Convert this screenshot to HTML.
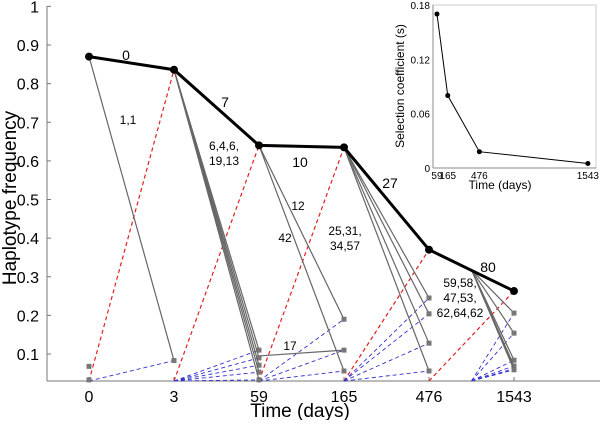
<!DOCTYPE html>
<html><head><meta charset="utf-8"><style>
body{margin:0;background:#fff;font-family:"Liberation Sans",sans-serif}
svg text{font-family:"Liberation Sans",sans-serif}
</style></head><body>
<svg id="c" width="600" height="420" viewBox="0 0 600 420"></svg>
<script>
const categories=["0","3","59","165","476","1543"];
const mainValues=[0.87,0.836,0.64,0.635,0.37,0.263];
const mainLabels=["0","7","10","27","80"];
const yTicks=[0.1,0.2,0.3,0.4,0.5,0.6,0.7,0.8,0.9,1];
const yTickLabels=["0.1","0.2","0.3","0.4","0.5","0.6","0.7","0.8","0.9","1"];
// gray drift lines: [fromIdx, fromVal, toIdx, toVal]
const drift=[[0,0.87,1,0.083],[1,0.836,2,0.11],[1,0.836,2,0.09],[1,0.836,2,0.071],[1,0.836,2,0.053],[1,0.836,2,0.033],
[2,0.64,3,0.19],[2,0.64,3,0.056],[2,0.095,3,0.11],
[3,0.635,4,0.245],[3,0.635,4,0.204],[3,0.635,4,0.128],[3,0.635,4,0.056],
[4.5,0.318,5,0.206],[4.5,0.318,5,0.154],[4.5,0.318,5,0.084],[4.5,0.318,5,0.069],[4.5,0.318,5,0.062],[4.5,0.318,5,0.059]];
const extraSquares=[[0,0.068],[0,0.033]];
const blueFrom=[0,1,1,1,1,1,2,2,2,3,3,3,3,4.5,4.5,4.5,4.5,4.5,4.5];
const insetDays=[59,165,476,1543];
const insetS=[0.17,0.08,0.018,0.005];
const insetYTicks=[0,0.06,0.12,0.18];
const insetYLabels=["0","0.06","0.12","0.18"];
const NS="http://www.w3.org/2000/svg";
const svg=document.getElementById('c');
const x=i=>89+i*85;
const y=v=>45+(0.9-v)*386.25;
const Y0=381;
function el(t,a,p){const e=document.createElementNS(NS,t);for(const k in a)e.setAttribute(k,a[k]);(p||svg).appendChild(e);return e;}
function txt(s,xx,yy,size,anchor,p){const e=el('text',{x:xx,y:yy,'font-size':size,'text-anchor':anchor||'middle',fill:'#000'},p);e.textContent=s;return e;}
let a=el('line',{x1:47,y1:Y0,x2:600,y2:Y0,stroke:'#777'});
a=el('line',{x1:47,y1:6,x2:47,y2:Y0,stroke:'#777'});
yTicks.forEach((v,i)=>{el('line',{x1:47,y1:y(v),x2:51,y2:y(v),stroke:'#777'});const t=txt(yTickLabels[i],39,y(v)+6,16,'end');});
categories.forEach((c,i)=>{el('line',{x1:x(i),y1:Y0,x2:x(i),y2:Y0-4,stroke:'#777'});const t=txt(c,x(i),402,16);});
let t=txt('Time (days)',300,417,19);
t=txt('Haplotype frequency',0,0,19);t.setAttribute('transform','translate(16,198) rotate(-90)');
for(let i=0;i<5;i++){const l=el('line',{x1:x(i),y1:Y0,x2:x(i+1),y2:y(mainValues[i+1]),stroke:'#e02020','stroke-width':1.2,'stroke-dasharray':'4,3'});}
drift.forEach((d,k)=>{const l=el('line',{x1:x(blueFrom[k]),y1:Y0,x2:x(d[2]),y2:y(d[3]),stroke:'#3030d0','stroke-width':0.9,'stroke-dasharray':'4,3'});});
drift.forEach(d=>{const l=el('line',{x1:x(d[0]),y1:y(d[1]),x2:x(d[2]),y2:y(d[3]),stroke:'#666','stroke-width':1.2});
const s=el('rect',{x:x(d[2])-2.5,y:y(d[3])-2.5,width:5,height:5,fill:'#777'});});
extraSquares.forEach(d=>{const s=el('rect',{x:x(d[0])-2.5,y:y(d[1])-2.5,width:5,height:5,fill:'#777'});});
const p=el('polyline',{points:mainValues.map((v,i)=>x(i)+','+y(v)).join(' '),fill:'none',stroke:'#000','stroke-width':3});
mainValues.forEach((v,i)=>{const c=el('circle',{cx:x(i),cy:y(v),r:4,fill:'#000'});});
const lblPos=[[126,60],[225,107],[300,167],[390,188],[488,272]];
mainLabels.forEach((s,i)=>{const e=txt(s,lblPos[i][0],lblPos[i][1],14);});
const small=[["1,1",128,124],["6,4,6,",224,150],["19,13",224,165],["12",298,210],["42",285,242],["17",290,350],["25,31,",345,235],["34,57",345,250],["59,58,",460,287],["47,53,",460,302],["62,64,62",460,317]];
small.forEach(s=>{const e=txt(s[0],s[1],s[2],12);});
const g=el('g',{});
const ix=d=>433+(d-20)*0.1017, iy=v=>168-v*(163/0.18);
el('rect',{x:433,y:5,width:163,height:163,fill:'#fff',stroke:'#ccc'},g);
el('line',{x1:433,y1:168,x2:596,y2:168,stroke:'#888'},g);el('line',{x1:433,y1:5,x2:433,y2:168,stroke:'#888'},g);
insetYTicks.forEach((v,i)=>{const e=txt(insetYLabels[i],430,iy(v)+4,10,'end',g);});
insetDays.forEach(d=>{const e=txt(String(d),ix(d),179,10,'middle',g);});
el('polyline',{points:insetDays.map((d,i)=>ix(d)+','+iy(insetS[i])).join(' '),fill:'none',stroke:'#000','stroke-width':1},g);
insetDays.forEach((d,i)=>{const c=el('circle',{cx:ix(d),cy:iy(insetS[i]),r:2.5,fill:'#000'},g);});
t=txt('Time (days)',500,189,12,'middle',g);
t=txt('Selection coefficient (s)',0,0,12,'middle',g);t.setAttribute('transform','translate(404,86) rotate(-90)');
</script>
</body></html>
